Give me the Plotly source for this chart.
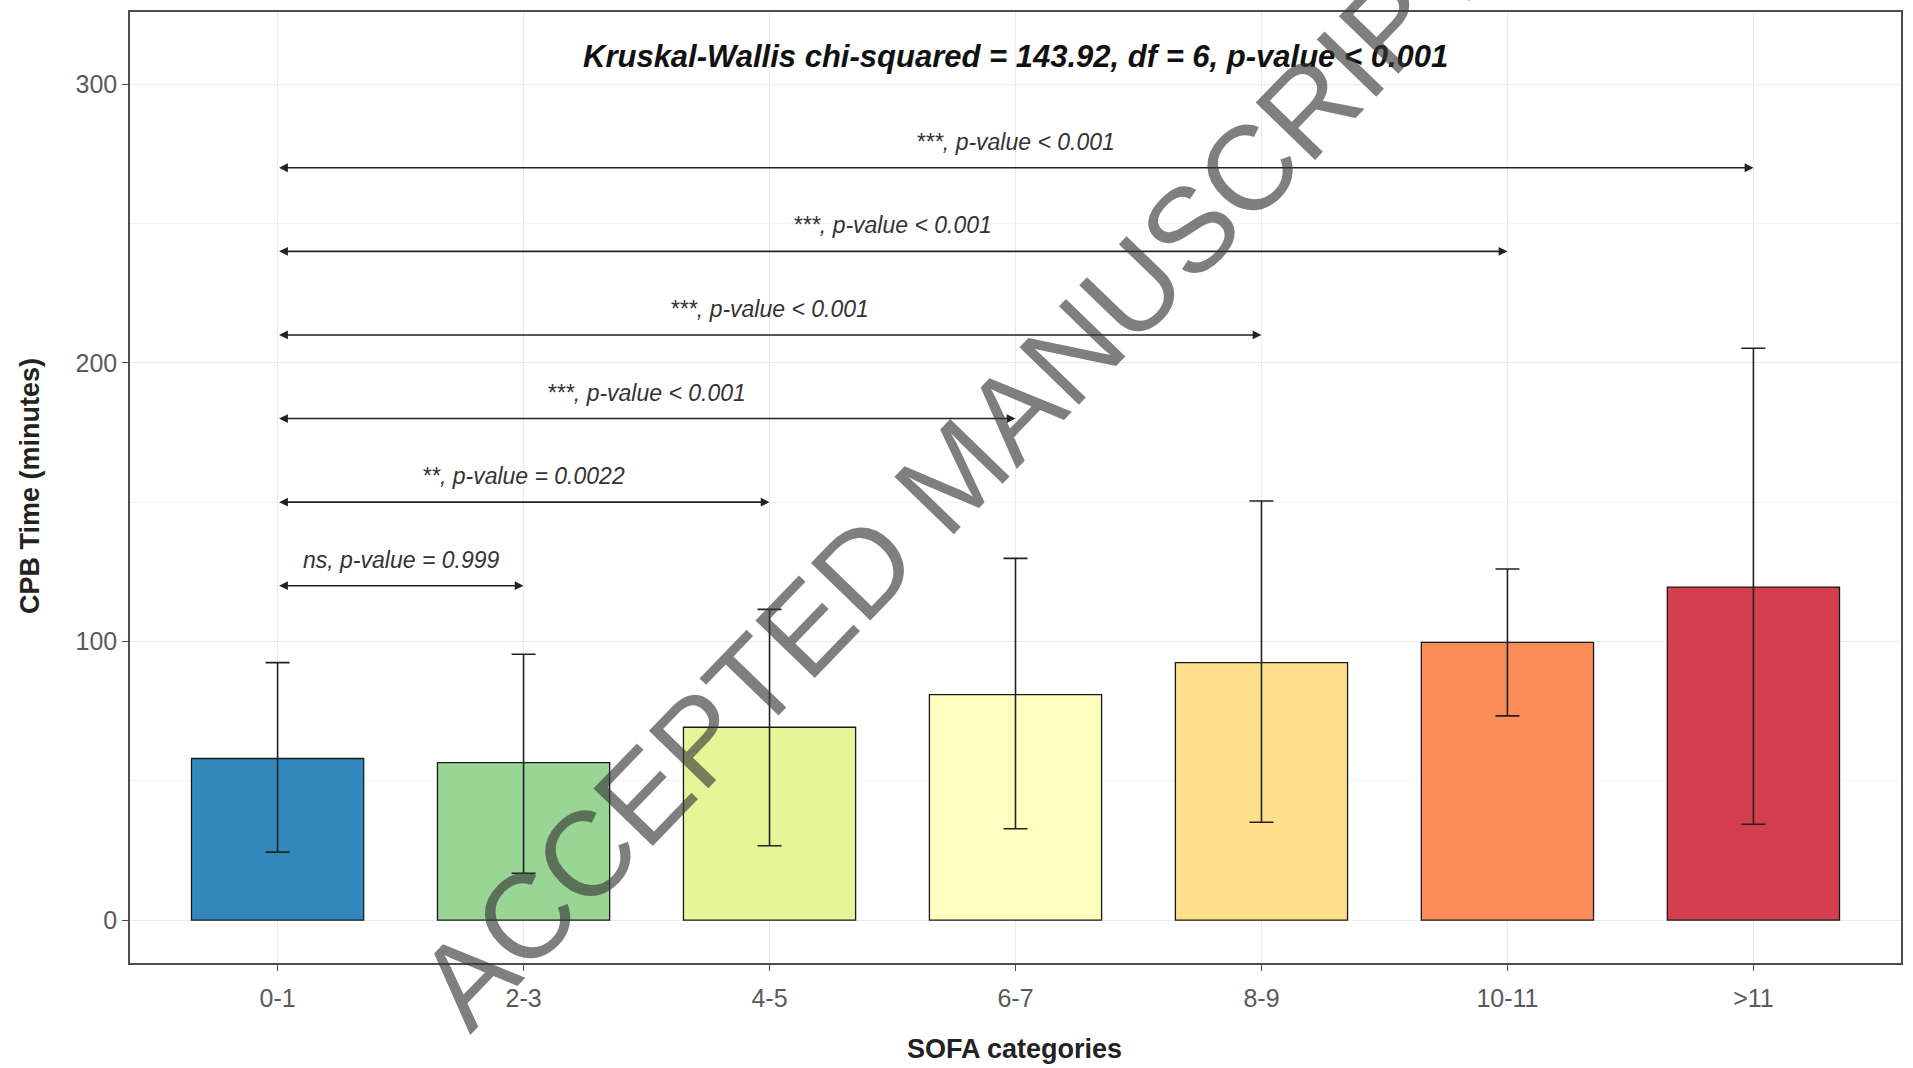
import plotly.graph_objects as go

# SOFA categories and CPB time summary (minutes)
categories = ["0-1", "2-3", "4-5", "6-7", "8-9", "10-11", ">11"]
mean_cpb = [58.0, 56.5, 69.2, 80.9, 92.4, 99.7, 119.5]
upper_cpb = [92.4, 95.4, 111.5, 129.8, 150.4, 126.0, 205.2]
lower_cpb = [24.4, 16.8, 26.7, 32.8, 35.1, 73.3, 34.4]
bar_colors = ["#3288BD", "#99D594", "#E6F598", "#FFFFBF", "#FEE08B", "#FC8D59", "#D53E4F"]

# Pairwise comparisons against the reference group "0-1"
cmp_targets = ["2-3", "4-5", "6-7", "8-9", "10-11", ">11"]
cmp_heights = [120, 150, 180, 210, 240, 270]
cmp_labels = [
    "ns, p-value = 0.999",
    "**, p-value = 0.0022",
    "***, p-value < 0.001",
    "***, p-value < 0.001",
    "***, p-value < 0.001",
    "***, p-value < 0.001",
]
kw_text = "Kruskal-Wallis chi-squared = 143.92, df = 6, p-value < 0.001"

FONT = "Liberation Sans, Arial, sans-serif"

err_plus = [u - m for u, m in zip(upper_cpb, mean_cpb)]
err_minus = [m - l for m, l in zip(mean_cpb, lower_cpb)]

fig = go.Figure()
fig.add_trace(go.Bar(
    x=categories,
    y=mean_cpb,
    width=0.7,
    marker=dict(color=bar_colors, line=dict(color="#1a1a1a", width=1.3)),
    error_y=dict(type="data", symmetric=False, array=err_plus, arrayminus=err_minus,
                 color="#222222", thickness=1.6, width=12),
    showlegend=False,
    hoverinfo="skip",
))

annotations = []
ref = categories[0]
for tgt, h, lab in zip(cmp_targets, cmp_heights, cmp_labels):
    # double-headed comparison arrow
    annotations.append(dict(
        x=tgt, y=h, ax=ref, ay=h, xref="x", yref="y", axref="x", ayref="y",
        text="", showarrow=True, arrowside="end+start",
        arrowhead=2, startarrowhead=2, arrowsize=1.1, startarrowsize=1.1,
        arrowwidth=1.6, arrowcolor="#222222", standoff=0, startstandoff=0,
    ))
    i0 = categories.index(ref)
    i1 = categories.index(tgt)
    annotations.append(dict(
        x=(i0 + i1) / 2, y=h, xref="x", yref="y", yshift=26,
        text="<i>" + lab + "</i>", showarrow=False,
        font=dict(family=FONT, size=23, color="#333333"),
        xanchor="center", yanchor="middle",
    ))

# overall test result
annotations.append(dict(
    x=3, y=310, xref="x", yref="y", text="<b><i>" + kw_text + "</i></b>",
    showarrow=False, font=dict(family=FONT, size=31, color="#111111"),
    xanchor="center", yanchor="middle",
))

# axis titles
annotations.append(dict(
    x=0.4995, y=-0.090, xref="paper", yref="paper", text="<b>SOFA categories</b>",
    showarrow=False, font=dict(family=FONT, size=27, color="#222222"),
    xanchor="center", yanchor="middle",
))
annotations.append(dict(
    x=-0.0564, y=0.5016, xref="paper", yref="paper", text="<b>CPB Time (minutes)</b>",
    showarrow=False, textangle=-90, font=dict(family=FONT, size=27, color="#222222"),
    xanchor="center", yanchor="middle",
))

# diagonal manuscript stamp
annotations.append(dict(
    x=0.465, y=0.514, xref="paper", yref="paper", text="ACCEPTED MANUSCRIPT",
    showarrow=False, textangle=-46,
    font=dict(family=FONT, size=120, color="rgba(55,55,55,0.64)"),
    xanchor="center", yanchor="middle",
))

fig.update_layout(
    width=1913, height=1068,
    margin=dict(l=130, r=11, t=10, b=105),
    paper_bgcolor="white", plot_bgcolor="white",
    annotations=annotations,
    font=dict(family=FONT),
)
fig.update_xaxes(
    type="category", categoryorder="array", categoryarray=categories,
    range=[-0.6, 6.6],
    showgrid=True, gridcolor="#ebebeb", gridwidth=1,
    showline=True, mirror=True, linecolor="#4d4d4d", linewidth=1.5,
    ticks="outside", ticklen=6, tickcolor="#4d4d4d", tickwidth=1.2,
    tickfont=dict(family=FONT, size=25, color="#5a5a5a"),
    ticklabelstandoff=6,
)
fig.update_yaxes(
    range=[-15.4, 325.9], tickvals=[0, 100, 200, 300],
    showgrid=True, gridcolor="#ebebeb", gridwidth=1, zeroline=False,
    minor=dict(tickvals=[50, 150, 250], showgrid=True, gridcolor="#f5f5f5", ticks=""),
    showline=True, mirror=True, linecolor="#4d4d4d", linewidth=1.5,
    ticks="outside", ticklen=6, tickcolor="#4d4d4d", tickwidth=1.2,
    tickfont=dict(family=FONT, size=25, color="#5a5a5a"),
)

fig.write_html("out.html")
